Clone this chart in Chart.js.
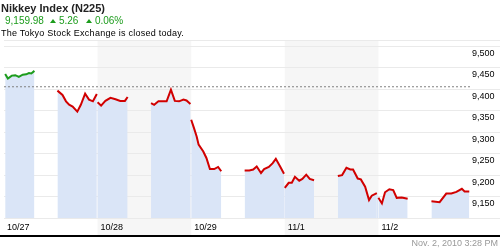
<!DOCTYPE html>
<html lang="en">
<head>
<meta charset="UTF-8" />
<title>Nikkey Index (N225)</title>
<script src="https://cdn.jsdelivr.net/npm/chart.js"></script>
<style>
  body { margin: 0; background: #fff; font-family: Arial, "Liberation Sans", sans-serif; }
  #wrap { position: relative; width: 500px; height: 250px; overflow: hidden; }
  #chart { position: absolute; left: 0; top: 0; }
  .hdr { position: absolute; line-height: 1; white-space: nowrap; }
  #title { left: 1px; top: 3px; font-size: 11px; font-weight: bold; color: #222; }
  #quote { left: 5px; top: 16px; font-size: 10px; color: #1c9c1c; }
  #quote .up {
    display: inline-block; width: 0; height: 0;
    border-left: 3.5px solid transparent; border-right: 3.5px solid transparent;
    border-bottom: 4px solid #1c9c1c; margin: 0 3px 1px 6px;
  }
  #note { left: 1px; top: 29px; font-size: 9px; letter-spacing: 0.25px; color: #000; }
  #stamp { right: 2px; top: 239px; font-size: 9px; color: #999; }
</style>
</head>
<body>
<div id="wrap">
  <canvas id="chart" width="500" height="250"></canvas>
  <div class="hdr" id="title">Nikkey Index (N225)</div>
  <div class="hdr" id="quote"><span>9,159.98</span><span class="up"></span><span>5.26</span><span class="up" style="margin-left:7.5px"></span><span>0.06%</span></div>
  <div class="hdr" id="note">The Tokyo Stock Exchange is closed today.</div>
  <div class="hdr" id="stamp">Nov. 2, 2010 3:28 PM</div>
</div>

<script>
// x values are hours counted from the start of 10/27 (one trading day = 24 units)
const dateLabels = ["10/27", "10/28", "10/29", "11/1", "11/2"];
const yTicks = [9100, 9150, 9200, 9250, 9300, 9350, 9400, 9450, 9500];
const prevClose = 9406;

const session1Times = [0.3, 1.0, 2.0, 2.9, 3.8, 4.8, 5.7, 6.4, 7.0, 7.8];
const session1Values = [9436, 9425, 9432, 9433, 9429, 9434, 9435, 9438, 9437, 9443];

const session2Times = [13.7, 15.0, 15.9, 16.7, 17.6, 18.8, 19.7, 20.8, 21.8, 22.8, 23.8, 24.0, 24.9, 26.0, 27.3, 28.6, 29.8, 31.0, 31.7];
const session2Values = [9397, 9387, 9372, 9364, 9360, 9348, 9364, 9390, 9376, 9372, 9389, 9370, 9362, 9373, 9380, 9377, 9373, 9373, 9382];

const session3Times = [37.7, 38.5, 39.6, 41.7, 42.8, 43.8, 44.9, 46.0, 46.8, 47.8, 48.0, 48.7, 49.4, 49.9, 51.1, 51.9, 52.8, 53.9, 54.9, 55.7];
const session3Values = [9368, 9364, 9372, 9372, 9399, 9373, 9372, 9376, 9374, 9366, 9329, 9310, 9290, 9271, 9255, 9240, 9214, 9214, 9219, 9209];

const session4Times = [61.7, 62.9, 63.9, 64.8, 65.9, 66.7, 67.9, 68.9, 69.7, 70.8, 71.8, 72.0, 73.0, 73.8, 74.6, 75.7, 76.5, 77.5, 78.4, 79.5];
const session4Values = [9211, 9211, 9213, 9220, 9205, 9214, 9219, 9228, 9238, 9220, 9203, 9170, 9182, 9182, 9196, 9187, 9191, 9201, 9191, 9188];

const session5Times = [85.6, 86.7, 87.8, 88.8, 89.5, 90.7, 91.5, 92.6, 93.6, 94.3, 95.6, 96.0, 96.9, 97.7, 98.8, 99.8, 100.7, 102.0, 103.5];
const session5Values = [9198, 9200, 9217, 9213, 9213, 9192, 9190, 9173, 9142, 9152, 9158, 9147, 9134, 9160, 9167, 9165, 9147, 9148, 9145];

const session6Times = [109.6, 111.7, 113.4, 114.7, 116.0, 117.4, 118.1, 119.3];
const session6Values = [9139, 9137, 9157, 9157, 9161, 9168, 9162, 9162];

const RED = "#d10000";
const GREEN = "#1c9c1c";
const FILL = "#dae5f7";
const BAND = "#f6f6f6";
const GRID = "#eaeaea";

function toPoints(times, values) {
  return times.map((t, i) => ({ x: t, y: values[i] }));
}

// red series: sessions joined with a null so the fill stops between them
const redSessions = [
  [session2Times, session2Values],
  [session3Times, session3Values],
  [session4Times, session4Values],
  [session5Times, session5Values],
  [session6Times, session6Values]
];
const redPoints = [];
redSessions.forEach(([t, v], i) => {
  if (i > 0) redPoints.push({ x: t[0] - 0.1, y: null });
  redPoints.push(...toPoints(t, v));
});

// the line is cut where a session crosses midnight, the fill is not
function crossesDay(ctx) {
  const a = ctx.p0.parsed.x, b = ctx.p1.parsed.x;
  return Math.floor(a / 24) !== Math.floor(b / 24);
}

const dayBands = {
  id: "dayBands",
  beforeDraw(chart) {
    const { ctx, chartArea, scales } = chart;
    const xs = scales.x;
    ctx.save();
    ctx.fillStyle = BAND;
    dateLabels.forEach((d, i) => {
      if (i % 2 === 1) {
        const x0 = xs.getPixelForValue(i * 24);
        const x1 = xs.getPixelForValue((i + 1) * 24);
        ctx.fillRect(x0, chartArea.top, x1 - x0, xs.bottom - chartArea.top - 1);
      }
    });
    ctx.restore();
  },
  afterDraw(chart) {
    const ctx = chart.ctx;
    ctx.save();
    ctx.fillStyle = "#000";
    ctx.fillRect(0, chart.scales.x.bottom - 1, chart.width, 2);
    ctx.restore();
  }
};

Chart.defaults.font.family = 'Arial, "Liberation Sans", sans-serif';
Chart.defaults.font.size = 9;
Chart.defaults.color = "#000";

new Chart(document.getElementById("chart"), {
  type: "line",
  data: {
    datasets: [
      {
        data: [{ x: 0, y: prevClose }, { x: 120, y: prevClose }],
        borderColor: "#808080",
        borderWidth: 1,
        borderDash: [2, 2],
        pointRadius: 0,
        fill: false
      },
      {
        data: toPoints(session1Times, session1Values),
        borderColor: GREEN,
        borderWidth: 2,
        backgroundColor: FILL,
        pointRadius: 0,
        fill: "start",
        tension: 0
      },
      {
        data: redPoints,
        borderColor: RED,
        borderWidth: 2,
        backgroundColor: FILL,
        pointRadius: 0,
        fill: "start",
        spanGaps: false,
        tension: 0,
        segment: {
          borderColor: ctx => crossesDay(ctx) ? "rgba(0,0,0,0)" : RED
        }
      }
    ]
  },
  options: {
    responsive: false,
    animation: false,
    events: [],
    layout: { padding: { left: 1, top: 40, right: 0, bottom: 14 } },
    plugins: { legend: { display: false }, tooltip: { enabled: false } },
    scales: {
      x: {
        type: "linear",
        min: 0,
        max: 120,
        afterFit: s => { s.height = 18; },
        afterBuildTicks: s => { s.ticks = dateLabels.map((d, i) => ({ value: i * 24 })); },
        grid: { display: false, drawTicks: false },
        border: { display: false },
        ticks: {
          autoSkip: false,
          maxRotation: 0,
          align: "start",
          labelOffset: 3,
          padding: 4,
          callback: v => dateLabels[v / 24] ?? ""
        }
      },
      y: {
        position: "right",
        min: 9100,
        max: 9515,
        afterFit: s => { s.width = 28; },
        afterBuildTicks: s => {
          s.ticks = yTicks.map(v => ({ value: v })).concat([{ value: 9515 }]);
        },
        grid: { color: GRID, lineWidth: 1, drawTicks: true, tickLength: 28 },
        border: { display: false },
        ticks: {
          autoSkip: false,
          padding: -28,
          labelOffset: 7,
          crossAlign: "near",
          callback: v => (v > yTicks[0] && v <= 9500) ? v.toLocaleString("en-US") : ""
        }
      }
    }
  },
  plugins: [dayBands]
});
</script>
</body>
</html>
